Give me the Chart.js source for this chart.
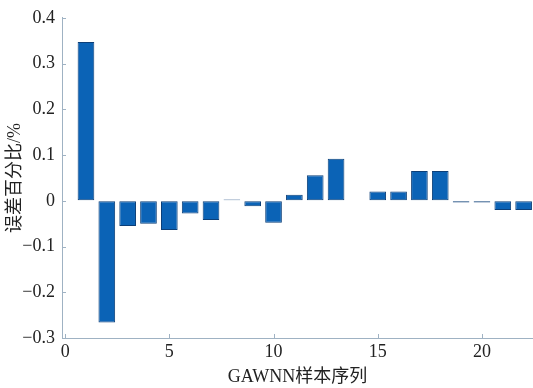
<!DOCTYPE html>
<html><head><meta charset="utf-8">
<script src="https://cdn.jsdelivr.net/npm/chart.js@4/dist/chart.umd.min.js"></script>
<style>html,body{margin:0;padding:0;background:#fff;}#wrap{width:533px;height:388px;}</style>
</head><body><div id="wrap"><canvas id="c" width="533" height="388"></canvas></div>
<script>
const samples = [1,2,3,4,5,6,7,8,9,10,11,12,13,14,15,16,17,18,19,20,21,22];
const errors = [0.347,-0.266,-0.055,-0.050,-0.064,-0.028,-0.042,0.003,-0.012,-0.048,0.013,0.056,0.092,-0.001,0.020,0.020,0.065,0.065,-0.004,-0.004,-0.020,-0.020];
const xTicks = [0,5,10,15,20];
const yTicks = [-0.3,-0.2,-0.1,0,0.1,0.2,0.3,0.4];
const xTitle = 'GAWNN样本序列';
const yTitle = '误差百分比/%';

const axisColor = '#9fb2c3';
const serif = '"Liberation Serif", "Times New Roman", "DejaVu Serif", serif';
const tickFont = {family: serif, size: 18};
const titleFont = {family: '"Liberation Serif", "Noto Sans CJK SC", serif', size: 18};

const inwardTicks = {
  id:'inwardTicks',
  afterDraw(chart){
    const {ctx, chartArea:a, scales:{x,y}} = chart;
    ctx.save();
    ctx.strokeStyle = axisColor; ctx.lineWidth = 1;
    ctx.beginPath();
    xTicks.forEach(v=>{const px=Math.round(x.getPixelForValue(v))+0.5; ctx.moveTo(px,a.bottom); ctx.lineTo(px,a.bottom-4);});
    yTicks.forEach(v=>{const py=Math.round(y.getPixelForValue(v))+0.5; ctx.moveTo(a.left,py); ctx.lineTo(a.left+4,py);});
    ctx.stroke();
    ctx.restore();
  }
};

new Chart(document.getElementById('c'), {
  type:'bar',
  data:{datasets:[{
    data: samples.map((s,i)=>({x:s,y:errors[i]})),
    backgroundColor:'#0b63b6',
    borderColor:'#0c3f78',
    borderWidth:1,
    borderSkipped:false,
    barPercentage:0.8,
    categoryPercentage:1
  }]},
  options:{
    responsive:false, animation:false,
    layout:{padding:{top:13,right:0,left:0,bottom:0}},
    plugins:{legend:{display:false}, tooltip:{enabled:false}},
    scales:{
      x:{type:'linear', min:-0.15, max:22.45, offset:false,
        afterFit(s){s.height=50;},
        afterBuildTicks(s){s.ticks = xTicks.map(v=>({value:v}));},
        ticks:{font:tickFont, color:'#222', padding:3, maxRotation:0, callback:v=>String(v)},
        grid:{display:true, drawOnChartArea:false, drawTicks:false},
        border:{display:true, color:axisColor, width:1},
        title:{display:true, text:xTitle, font:titleFont, color:'#222', padding:{top:2,bottom:0}}
      },
      y:{type:'linear', min:-0.3, max:0.4,
        afterFit(s){s.width=62;},
        afterBuildTicks(s){s.ticks = yTicks.map(v=>({value:v}));},
        ticks:{font:tickFont, color:'#222', padding:7,
          callback:v=>{const r=Math.round(v*10)/10; return r===0?'0':r.toFixed(1).replace('-','\u2212');}},
        grid:{display:true, drawOnChartArea:false, drawTicks:false},
        border:{display:true, color:axisColor, width:1},
        title:{display:true, text:yTitle, font:titleFont, color:'#222', padding:{top:4,bottom:0}}
      }
    }
  },
  plugins:[inwardTicks]
});
</script></body></html>
